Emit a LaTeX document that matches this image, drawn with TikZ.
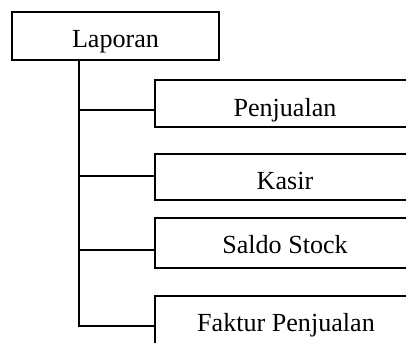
\documentclass[tikz,border=0pt]{standalone}
\usepackage{fontspec}
\setmainfont{Liberation Serif}
\newfontfamily\tnrfont{Liberation Serif}
\begin{document}
\begin{tikzpicture}[x=1bp,y=-1bp,
  box/.style={draw, line width=1.2bp, rectangle, inner sep=0pt, outer sep=0pt},
  lbl/.style={anchor=base, inner sep=0pt, font=\tnrfont\fontsize{26.2}{30}\selectfont},
  link/.style={line width=1.2bp}]
\useasboundingbox (0,0) rectangle (406,343);
\clip (0,0) rectangle (406,343);
% boxes
\node[box, minimum width=207bp, minimum height=48bp] (lap) at (115.5,36) {};
\node[box, minimum width=260bp, minimum height=47bp] (pen) at (285,103.5) {};
\node[box, minimum width=260bp, minimum height=46bp] (kas) at (285,177) {};
\node[box, minimum width=260bp, minimum height=50bp] (sal) at (285,243) {};
\node[box, minimum width=260bp, minimum height=64bp] (fak) at (285,328) {};
% labels
\node[lbl] (tlap) at (115.5,47) {Laporan};
\node[lbl] (tpen) at (285,116) {Penjualan};
\node[lbl] (tkas) at (285,189) {Kasir};
\node[lbl] (tsal) at (285,253) {Saldo Stock};
\node[lbl] (tfak) at (286,331) {Faktur Penjualan};
% connectors
\coordinate (top) at (79,60);
\coordinate (c1) at (79,110);
\coordinate (c2) at (79,176);
\coordinate (c3) at (79,250);
\coordinate (c4) at (79,326);
\draw[link] (top) -- (c4) -- (c4 -| fak.west);
\draw[link] (c1) -- (c1 -| pen.west);
\draw[link] (c2) -- (c2 -| kas.west);
\draw[link] (c3) -- (c3 -| sal.west);
\end{tikzpicture}
\end{document}
